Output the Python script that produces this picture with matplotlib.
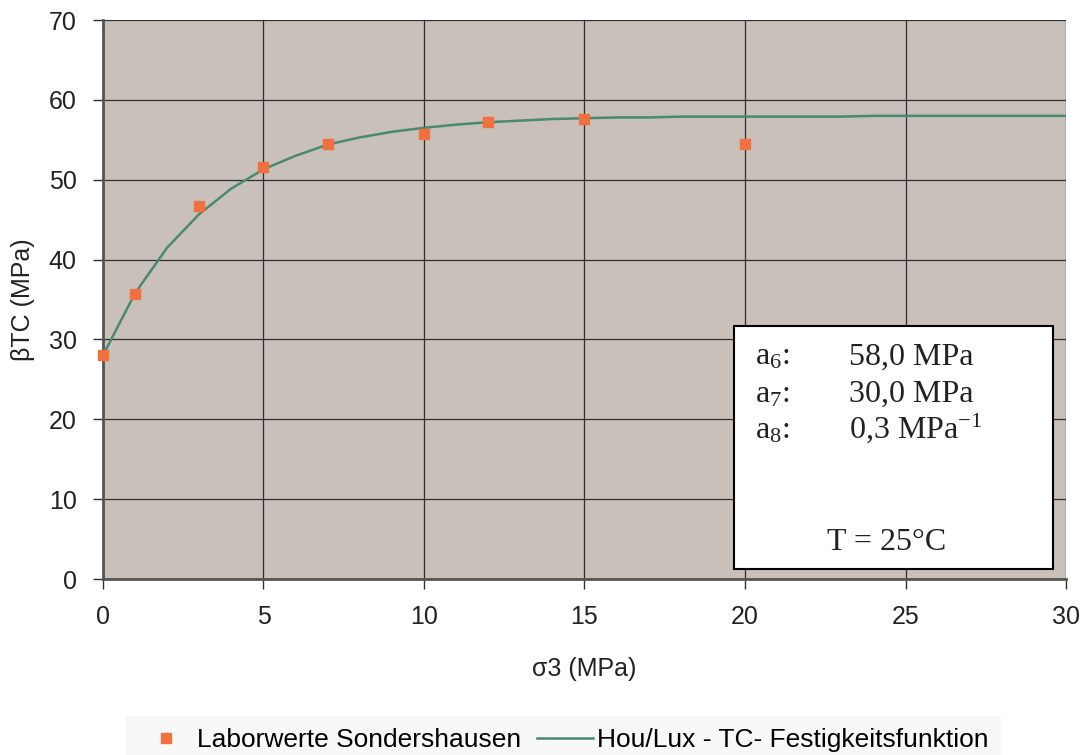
import matplotlib.pyplot as plt
from matplotlib.patches import Rectangle

# Laborwerte (Sondershausen)
sigma3_lab = [0, 1, 3, 5, 7, 10, 12, 15, 20]
beta_lab = [28.0, 35.7, 46.7, 51.6, 54.5, 55.7, 57.2, 57.6, 54.5]

# Hou/Lux TC-Festigkeitsfunktion, Stützstellen
sigma3_fit = list(range(0, 31))
beta_fit = [28.0, 35.8, 41.5, 45.7, 48.9, 51.3, 53.0, 54.4, 55.3, 56.0,
            56.5, 56.9, 57.2, 57.4, 57.6, 57.7, 57.8, 57.8, 57.9, 57.9,
            57.9, 57.9, 57.9, 57.9, 58.0, 58.0, 58.0, 58.0, 58.0, 58.0, 58.0]

plt.rcParams['font.family'] = ['Liberation Sans', 'DejaVu Sans']

fig = plt.figure(figsize=(10.85, 7.55), dpi=100)
ax = fig.add_axes([0.0949, 0.2331, 0.8876, 0.7404])
ax.set_facecolor('#c8c0b9')

ax.plot(sigma3_fit, beta_fit, color='#4a8a6e', lw=1.8, zorder=3,
        label='Hou/Lux - TC- Festigkeitsfunktion')
ax.plot(sigma3_lab, beta_lab, ls='none', marker='s', ms=7, color='#f07040',
        zorder=4, clip_on=False, label='Laborwerte Sondershausen')

ax.set_xlim(0, 30)
ax.set_ylim(0, 70)
ax.set_xticks(range(0, 31, 5))
ax.set_yticks(range(0, 71, 10))
ax.grid(True, color='#303030', lw=0.9)
ax.set_axisbelow(True)
for s in ['top', 'right']:
    ax.spines[s].set_visible(False)
for s in ['left', 'bottom']:
    ax.spines[s].set_color('#555555')
    ax.spines[s].set_linewidth(2)
ax.tick_params(direction='out', length=7, width=1, color='#303030',
               labelsize=18, labelcolor='#222222', pad=12)

ax.set_xlabel('σ3 (MPa)', fontsize=18, color='#222222', labelpad=20)
ax.set_ylabel('βTC (MPa)', fontsize=18, color='#222222', labelpad=10)

# Parameterkasten
box = Rectangle((0.6549, 0.0179), 0.3312, 0.4347, transform=ax.transAxes,
                facecolor='white', edgecolor='black', lw=1.5, zorder=5)
ax.add_patch(box)
serif = ['Liberation Serif', 'DejaVu Serif']
rows = [(r'$\mathregular{a_6}$:', '58,0 MPa', 0.383),
        (r'$\mathregular{a_7}$:', '30,0 MPa', 0.3166),
        (r'$\mathregular{a_8}$:', r'0,3 MPa$\mathregular{^{-1}}$', 0.2522)]
for name, val, y in rows:
    ax.text(0.677, y, name, transform=ax.transAxes, fontsize=23,
            family=serif, color='#222222', va='baseline', zorder=6)
    ax.text(0.7747, y, val, transform=ax.transAxes, fontsize=23,
            family=serif, color='#222222', va='baseline', zorder=6)
ax.text(0.814, 0.0519, 'T = 25°C', transform=ax.transAxes, fontsize=23,
        family=serif, color='#222222', ha='center', va='baseline', zorder=6)

handles, labels = ax.get_legend_handles_labels()
leg = fig.legend(handles[::-1], labels[::-1], loc='center', ncol=2,
                 bbox_to_anchor=(0.519, 0.02), fontsize=19, frameon=True,
                 handlelength=2.1, handletextpad=0.15, columnspacing=0.6,
                 borderpad=0.45)
leg.get_frame().set_facecolor('#f7f7f7')
leg.get_frame().set_edgecolor('#f7f7f7')
leg.get_frame().set_boxstyle('square', pad=0)

fig.savefig('out.png', dpi=100)
